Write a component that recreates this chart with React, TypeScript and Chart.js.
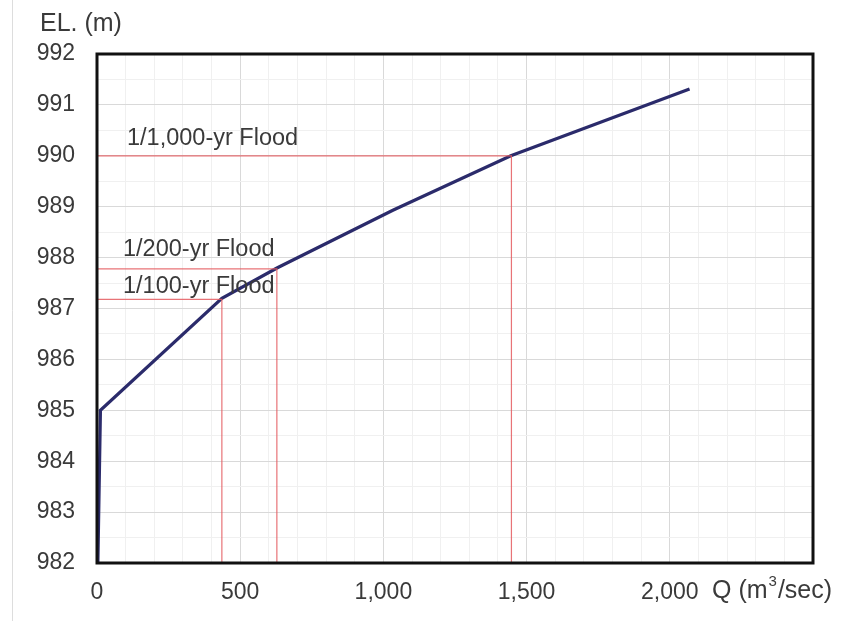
import React, { useEffect, useRef } from "react";
import { Chart, registerables } from "chart.js";

Chart.register(...registerables);

// Rating curve (discharge vs water level)
const curveQ = [3, 12, 436, 630, 1033, 1445, 2069];
const curveEL = [982, 985, 987.2, 987.8, 988.93, 990, 991.31];

// Design floods
const floodNames = ["1/100-yr Flood", "1/200-yr Flood", "1/1,000-yr Flood"];
const floodQ = [436, 628, 1447];
const floodEL = [987.18, 987.78, 990];

// Axes
const xMin = 0;
const xMax = 2500;
const xLabelTicks = [0, 500, 1000, 1500, 2000];
const yMin = 982;
const yMax = 992;

const FONT = "'Liberation Sans', Arial, sans-serif";
const TEXT = "#3a3a3a";

// pixel offsets of flood captions (x from axis, y above its line)
const captionDx = [26, 26, 30];
const captionDy = [13, 19, 17];

const overlay = {
  id: "overlay",
  beforeDraw(chart: any) {
    const c = chart.ctx;
    c.save();
    c.fillStyle = "#ffffff";
    c.fillRect(0, 0, chart.width, chart.height);
    c.strokeStyle = "#dddddd";
    c.lineWidth = 1;
    c.beginPath();
    c.moveTo(12.5, 0);
    c.lineTo(12.5, chart.height);
    c.stroke();
    c.restore();
  },
  afterDraw(chart: any) {
    const c = chart.ctx;
    const a = chart.chartArea;
    const xs = chart.scales.x;
    const ys = chart.scales.y;
    c.save();
    c.strokeStyle = "#111111";
    c.lineWidth = 3;
    c.strokeRect(a.left, a.top, a.right - a.left, a.bottom - a.top);

    c.fillStyle = TEXT;
    c.font = `23.5px ${FONT}`;
    c.textBaseline = "middle";
    c.textAlign = "left";
    floodNames.forEach((n, i) => {
      c.fillText(n, xs.getPixelForValue(0) + captionDx[i], ys.getPixelForValue(floodEL[i]) - captionDy[i]);
    });
    c.font = `25px ${FONT}`;
    c.fillText("EL. (m)", 40, 24);
    // x-axis title with superscript
    const y0 = 591;
    let x = 712;
    const p1 = "Q (m";
    c.fillText(p1, x, y0);
    x += c.measureText(p1).width;
    c.font = `15px ${FONT}`;
    c.fillText("3", x + 1, y0 - 9);
    x += c.measureText("3").width + 2;
    c.font = `25px ${FONT}`;
    c.fillText("/sec)", x, y0);
    c.restore();
  },
};

export default function App() {
  const ref = useRef<HTMLCanvasElement | null>(null);
  useEffect(() => {
    if (!ref.current) return;
    const floodSets = floodNames.map((n, i) => ({
      label: n,
      data: [
        { x: xMin, y: floodEL[i] },
        { x: floodQ[i], y: floodEL[i] },
        { x: floodQ[i], y: yMin },
      ],
      borderColor: "rgba(228,90,95,0.85)",
      borderWidth: 1.2,
      pointRadius: 0,
      tension: 0,
    }));
    const chart = new Chart(ref.current, {
      type: "line",
      data: {
        datasets: [
          ...floodSets,
          {
            label: "Rating curve",
            data: curveQ.map((q, i) => ({ x: q, y: curveEL[i] })),
            borderColor: "#2b2b6b",
            borderWidth: 3.2,
            pointRadius: 0,
            tension: 0,
          },
        ],
      },
      options: {
        animation: false,
        responsive: false,
        layout: { padding: { top: 54, right: 29, left: 0, bottom: 0 } },
        plugins: { legend: { display: false }, tooltip: { enabled: false } },
        scales: {
          x: {
            type: "linear",
            min: xMin,
            max: xMax,
            afterFit: (s: any) => {
              s.height = 58;
            },
            border: { display: false },
            grid: {
              drawTicks: false,
              color: (ctx: any) => (ctx.tick && ctx.tick.value % 500 === 0 ? "#d9d9d9" : "#f0f0f0"),
              lineWidth: 1,
            },
            ticks: {
              stepSize: 100,
              autoSkip: false,
              maxRotation: 0,
              padding: 16,
              color: TEXT,
              font: { family: FONT, size: 23 },
              callback: (v: any) => (xLabelTicks.includes(Number(v)) ? Number(v).toLocaleString("en-US") : ""),
            },
          },
          y: {
            type: "linear",
            min: yMin,
            max: yMax,
            afterFit: (s: any) => {
              s.width = 97;
            },
            border: { display: false },
            grid: {
              drawTicks: false,
              color: (ctx: any) => (ctx.tick && Number.isInteger(ctx.tick.value) ? "#d9d9d9" : "#f0f0f0"),
              lineWidth: 1,
            },
            ticks: {
              stepSize: 0.5,
              autoSkip: false,
              padding: 22,
              color: TEXT,
              font: { family: FONT, size: 23 },
              callback: (v: any) => (Number.isInteger(Number(v)) ? String(v) : ""),
            },
          },
        },
      },
      plugins: [overlay],
    });
    return () => chart.destroy();
  }, []);
  return (
    <div style={{ position: "fixed", left: 0, top: 0, width: 842, height: 621, background: "#fff" }}>
      <canvas ref={ref} width={842} height={621} style={{ width: 842, height: 621, display: "block" }} />
    </div>
  );
}
